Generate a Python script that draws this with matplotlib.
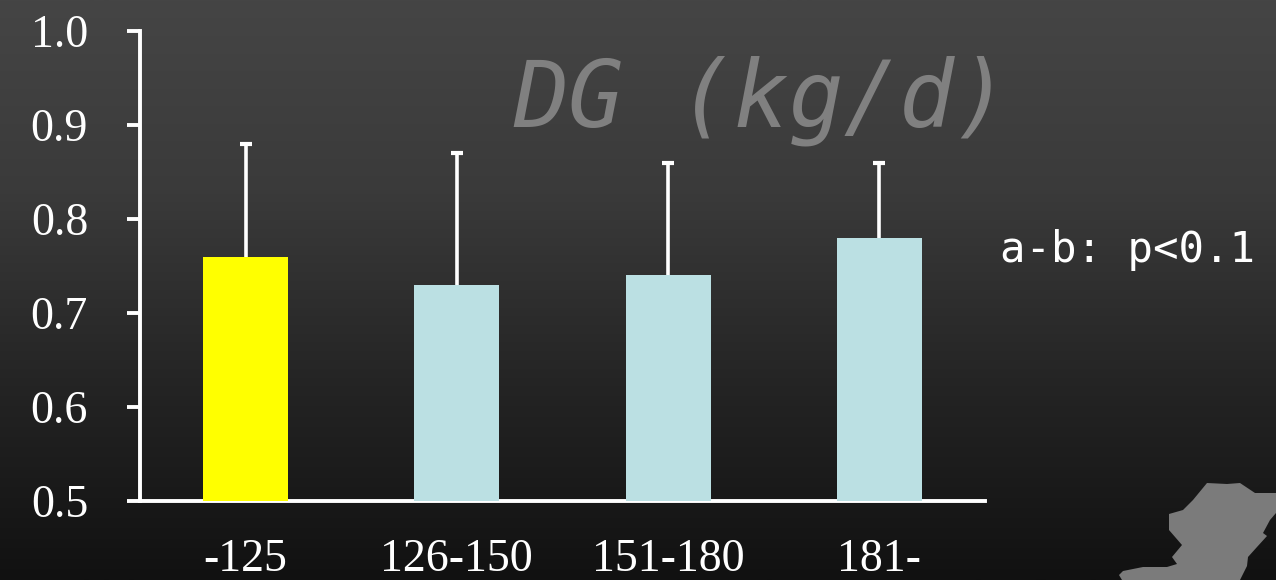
import numpy as np
import matplotlib
matplotlib.use('Agg')
import matplotlib.pyplot as plt
from matplotlib.patches import Polygon

labels = ['-125', '126-150', '151-180', '181-']
means = [0.76, 0.73, 0.74, 0.78]
upper = [0.88, 0.87, 0.86, 0.86]
bar_colors = ['#ffff00', '#bbe0e3', '#bbe0e3', '#bbe0e3']
y_ticks = [0.5, 0.6, 0.7, 0.8, 0.9, 1.0]

W, H = 1276, 580
fig = plt.figure(figsize=(W / 100, H / 100), dpi=100)

# background gradient
bg = fig.add_axes([0, 0, 1, 1], zorder=0)
bg.imshow(np.linspace(0, 1, 256).reshape(-1, 1), cmap=matplotlib.colors.LinearSegmentedColormap.from_list(
    'bg', ['#454545', '#3a3a3a', '#242424', '#111111']), aspect='auto', extent=[0, W, H, 0])
bg.set_xlim(0, W)
bg.set_ylim(H, 0)
bg.axis('off')

# map shape in the corner
outline = [(1207, 483), (1227, 484), (1240, 483), (1255, 493), (1276, 493), (1276, 513), (1270, 520),
           (1263, 533), (1267, 536), (1257, 547), (1248, 557), (1247, 566), (1240, 580), (1122, 580),
           (1119, 575), (1123, 571), (1143, 567), (1167, 567), (1177, 564), (1172, 557), (1182, 545),
           (1169, 530), (1169, 514), (1183, 510), (1193, 500)]
bg.add_patch(Polygon(outline, closed=True, fc='#7b7b7b', ec='none'))

ax = fig.add_axes([140 / W, 1 - 501 / H, 845 / W, 470 / H], zorder=1)
ax.patch.set_alpha(0)
x = np.arange(len(means))
ax.bar(x, means, width=0.403, color=bar_colors, zorder=3)
_, caps, _ = ax.errorbar(x, means, yerr=[np.zeros(4), np.array(upper) - np.array(means)], fmt='none',
                         ecolor='white', elinewidth=2.6, capsize=4.3, capthick=3, zorder=2)
caps[0].set_visible(False)  # only the upper cap
ax.set_xlim(-0.5, 3.5)
ax.set_ylim(0.5, 1.0)
ax.set_yticks(y_ticks)
ax.set_yticklabels([f'{v:.1f}' for v in y_ticks], fontfamily='Liberation Serif', fontsize=33, color='white')
ax.set_xticks(x)
ax.set_xticklabels(labels, fontfamily='Liberation Serif', fontsize=33, color='white')
ax.tick_params(axis='y', length=9.4, width=2.8, color='white', pad=28)
ax.tick_params(axis='x', length=0, pad=27)
for s in ['top', 'right']:
    ax.spines[s].set_visible(False)
for s in ['left', 'bottom']:
    ax.spines[s].set_color('white')
    ax.spines[s].set_linewidth(2.8)

bg.text(761, 101, 'DG (kg/d)', family='DejaVu Sans Mono', style='italic', fontsize=66, color='#808080',
        ha='center', va='center')
bg.text(1000, 250, 'a-b: p<0.1', family='DejaVu Sans Mono', fontsize=30.5, color='white', ha='left', va='center')

fig.savefig('out.png', dpi=100)
